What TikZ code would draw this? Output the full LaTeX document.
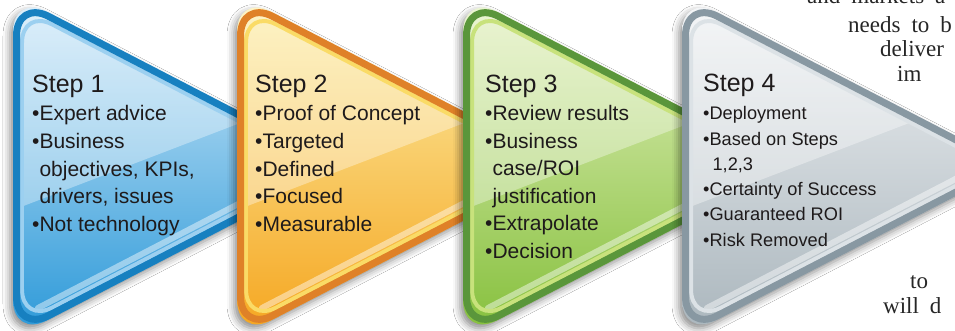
\documentclass[tikz,border=0pt]{standalone}
\usepackage{fontspec}
\setmainfont{Liberation Sans}
\newfontfamily\pageserif{Liberation Serif}
\usetikzlibrary{shadows.blur}

\definecolor{blueedge}{HTML}{1780C0}
\definecolor{bluerim}{HTML}{9CD0F0}
\definecolor{bluetop}{HTML}{D2EAF9}
\definecolor{bluebot}{HTML}{2A98D8}
\definecolor{orangeedge}{HTML}{DF8128}
\definecolor{orangerim}{HTML}{FADB66}
\definecolor{orangetop}{HTML}{FCF0AC}
\definecolor{orangebot}{HTML}{F5A51E}
\definecolor{greenedge}{HTML}{5A963B}
\definecolor{greenrim}{HTML}{C8E27C}
\definecolor{greentop}{HTML}{E4F1C0}
\definecolor{greenbot}{HTML}{84BF3A}
\definecolor{grayedge}{HTML}{8898A2}
\definecolor{grayrim}{HTML}{DCE2E6}
\definecolor{graytop}{HTML}{F1F3F5}
\definecolor{graybot}{HTML}{A9B5BC}
\definecolor{steptext}{HTML}{1E1A1B}

\newcommand{\arrowoutline}{(0,-6) -- (332,166) -- (0,338) -- cycle}
\newcommand{\widewords}{\spaceskip=11pt\relax}

\tikzset{
  pics/steparrow/.style={code={
      \path[rounded corners=38pt, blur shadow={shadow xshift=-3pt, shadow yshift=-4pt,
          shadow blur radius=7pt, shadow opacity=45}] \arrowoutline;
      \shade[rounded corners=38pt, top color=#1top, bottom color=#1bot] \arrowoutline;
      \begin{scope}
        \clip[rounded corners=38pt] \arrowoutline;
        \fill[white, opacity=.35] (0,-6) -- (235,120) -- (0,210) -- cycle; % gloss
        \draw[white, opacity=.45, line width=6pt, line cap=round]           % lower shine
          (25,308) -- (260,186) .. controls (298,167) and (298,161) .. (276,154);
      \end{scope}
      \begin{scope}[shift={(104.6,166)}, scale=.914, shift={(-104.6,-166)}]
        \draw[#1rim, line width=4pt, rounded corners=34pt] \arrowoutline;
      \end{scope}
      \begin{scope}[shift={(104.6,166)}, scale=.9665, shift={(-104.6,-166)}]
        \draw[#1edge, line width=7pt, rounded corners=36pt] \arrowoutline;
      \end{scope}
  }},
  stephead/.style={anchor=base west, inner sep=0pt, text=steptext,
    font=\fontsize{25}{28}\selectfont},
  stepitem/.style={anchor=base west, inner sep=0pt, text=steptext,
    font=\fontsize{21}{24}\selectfont},
  smallitem/.style={stepitem, font=\fontsize{18.2}{20}\selectfont},
  pagetext/.style={anchor=base west, inner sep=0pt, text=black!85,
    font=\pageserif\fontsize{23}{24}\selectfont}
}

\begin{document}
\begin{tikzpicture}[x=1pt,y=-1pt]
  \useasboundingbox (0,0) rectangle (955,331);
  \clip (0,0) rectangle (955,331);
  \fill[white] (0,0) rectangle (955,331);

  % running text of the page, behind the arrows
  \node[pagetext] (page1) at (807,4) {\widewords and markets a};
  \node[pagetext] (page2) at (848,33) {\widewords needs to b};
  \node[pagetext] (page3) at (880,57) {deliver};
  \node[pagetext] (page4) at (897,82) {im};
  \node[pagetext] (page5) at (910,288) {to};
  \node[pagetext] (page6) at (883,313) {\widewords will d};

  % the four arrows, left to right
  \foreach \x/\col in {13/blue,237/orange,463/green,682/gray}
    \pic at (\x,0) {steparrow=\col};

  % step 1
  \node[stephead] (head1) at (32,93) {Step 1};
  \foreach \txt [count=\i from 0] in {{•Expert advice},{•Business},
      {\hphantom{•}objectives, KPIs,},{\hphantom{•}drivers, issues},{•Not technology}}
    \node[stepitem] (item1-\i) at (32,121+27.6*\i) {\txt};

  % step 2
  \node[stephead] (head2) at (255,93) {Step 2};
  \foreach \txt [count=\i from 0] in {{•Proof of Concept},{•Targeted},{•Defined},
      {•Focused},{•Measurable}}
    \node[stepitem] (item2-\i) at (255,121+27.6*\i) {\txt};

  % step 3
  \node[stephead] (head3) at (485,93) {Step 3};
  \foreach \txt [count=\i from 0] in {{•Review results},{•Business},
      {\hphantom{•}case/ROI},{\hphantom{•}justification},{•Extrapolate},{•Decision}}
    \node[stepitem] (item3-\i) at (485,121+27.4*\i) {\txt};

  % step 4
  \node[stephead] (head4) at (703,92) {Step 4};
  \foreach \txt [count=\i from 0] in {{•Deployment},{•Based on Steps},
      {\hphantom{•}\,1,2,3},{•Certainty of Success},{•Guaranteed ROI},{•Risk Removed}}
    \node[smallitem] (item4-\i) at (703,120+25.2*\i) {\txt};
\end{tikzpicture}
\end{document}
